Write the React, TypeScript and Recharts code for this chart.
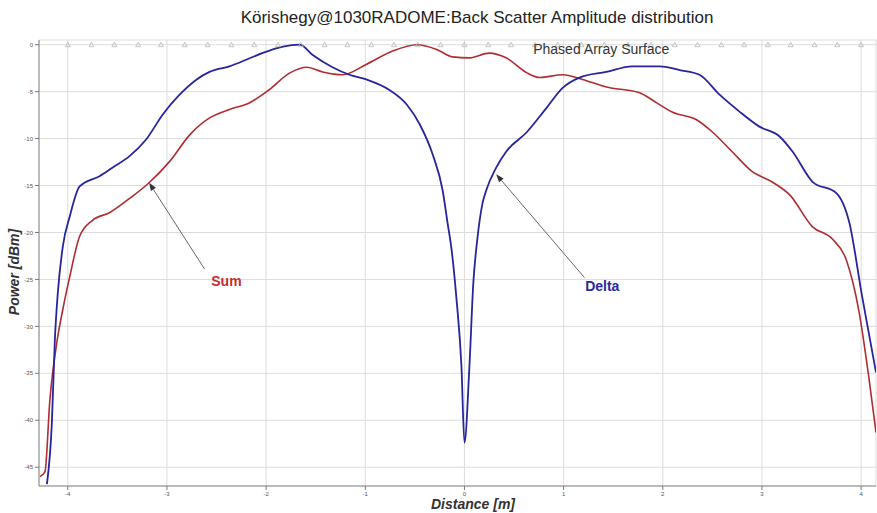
import React from 'react';
import {
  ComposedChart,
  Line,
  Scatter,
  XAxis,
  YAxis,
  CartesianGrid,
  ReferenceLine,
  ReferenceDot,
} from 'recharts';

const titleText = 'Körishegy@1030RADOME:Back Scatter Amplitude distribution';
const xLabel = 'Distance [m]';
const yLabel = 'Power [dBm]';
const surfaceLabel = 'Phased Array Surface';

const xTicks = [-4, -3, -2, -1, 0, 1, 2, 3, 4];
const yTicks = [0, -5, -10, -15, -20, -25, -30, -35, -40, -45];

const deltaDistance = [
  -4.21, -4.16, -4.13, -4.1, -4.05, -3.98, -3.88, -3.68, -3.55, -3.38, -3.21, -3.04, -2.87, -2.7,
  -2.57, -2.37, -2.2, -2.04, -1.83, -1.66, -1.53, -1.33, -1.16, -0.99, -0.76, -0.58, -0.45, -0.32,
  -0.22, -0.17, -0.13, -0.08, -0.03, 0.0, 0.05, 0.09, 0.13, 0.18, 0.22, 0.32, 0.42, 0.63, 0.83,
  0.99, 1.16, 1.43, 1.69, 1.97, 2.17, 2.37, 2.57, 2.77, 2.97, 3.18, 3.31, 3.51, 3.75, 3.88, 4.01,
  4.15,
];
const deltaPower = [
  -46.8, -40.2, -31.4, -26.4, -21.5, -18.3, -15.1, -14.0, -13.1, -11.9, -10.1, -7.4, -5.3, -3.7,
  -2.9, -2.3, -1.6, -0.9, -0.2, 0.0, -1.1, -2.4, -3.2, -3.7, -4.8, -6.4, -8.5, -11.7, -15.5, -19.0,
  -21.8, -27.1, -34.3, -42.4, -34.3, -25.3, -20.7, -17.0, -15.5, -13.1, -11.4, -9.3, -6.7, -4.6,
  -3.5, -2.9, -2.3, -2.3, -2.7, -3.2, -5.3, -7.1, -8.7, -9.8, -11.4, -14.6, -15.8, -18.9, -26.8,
  -34.9,
];

const sumDistance = [
  -4.28, -4.23, -4.18, -4.11, -4.05, -3.98, -3.88, -3.75, -3.58, -3.38, -3.18, -2.97, -2.77, -2.57,
  -2.37, -2.17, -1.97, -1.76, -1.59, -1.43, -1.23, -0.99, -0.73, -0.48, -0.28, -0.12, 0.05, 0.25,
  0.42, 0.63, 0.76, 0.99, 1.19, 1.43, 1.76, 1.94, 2.1, 2.34, 2.5, 2.7, 2.9, 3.1, 3.28, 3.51, 3.71,
  3.85, 3.98, 4.08, 4.15,
];
const sumPower = [
  -46.0, -45.5, -37.8, -31.7, -28.2, -24.7, -20.4, -18.7, -17.9, -16.4, -14.7, -12.4, -9.6, -7.8,
  -6.9, -6.2, -4.8, -3.0, -2.4, -2.9, -3.2, -2.1, -0.7, 0.0, -0.5, -1.3, -1.4, -0.9, -1.4, -3.0,
  -3.5, -3.2, -3.7, -4.5, -5.1, -6.2, -7.2, -8.0, -9.3, -11.4, -13.5, -14.6, -16.0, -19.4, -20.7,
  -22.9, -28.5, -35.6, -41.3,
];

const markerDistance = [
  -4.0, -3.76, -3.53, -3.29, -3.06, -2.82, -2.59, -2.35, -2.12, -1.88, -1.65, -1.41, -1.18, -0.94,
  -0.71, -0.47, -0.24, 0.0, 0.24, 0.47, 0.71, 0.94, 1.18, 1.41, 1.65, 1.88, 2.12, 2.35, 2.59, 2.82,
  3.06, 3.29, 3.53, 3.76, 4.0,
];

const deltaData = deltaDistance.map((x, i) => ({ x, y: deltaPower[i] }));
const sumData = sumDistance.map((x, i) => ({ x, y: sumPower[i] }));
const markerData = markerDistance.map((x) => ({ x, y: 0 }));

const Triangle = (props: any) => {
  const { cx, cy } = props;
  if (cx == null || cy == null) return null;
  return (
    <path
      d={`M${cx - 2.5},${cy + 2} L${cx},${cy - 2.5} L${cx + 2.5},${cy + 2} Z`}
      fill="none"
      stroke="#b9b9b0"
      strokeWidth={0.8}
    />
  );
};

const Arrow = (props: any) => {
  const { x1, y1, x2, y2 } = props;
  if ([x1, y1, x2, y2].some((v) => v == null || isNaN(v))) return null;
  const ang = Math.atan2(y2 - y1, x2 - x1);
  const L = 8;
  const W = 3;
  const bx = x2 - L * Math.cos(ang);
  const by = y2 - L * Math.sin(ang);
  const px = -Math.sin(ang) * W;
  const py = Math.cos(ang) * W;
  return (
    <g>
      <line x1={x1} y1={y1} x2={bx} y2={by} stroke="#555" strokeWidth={0.9} />
      <polygon points={`${x2},${y2} ${bx + px},${by + py} ${bx - px},${by - py}`} fill="#333" />
    </g>
  );
};

export default function App() {
  return (
    <div
      style={{
        position: 'absolute',
        left: 0,
        top: 0,
        width: 877,
        height: 513,
        background: '#fff',
        fontFamily: '"Liberation Sans", Arial, sans-serif',
      }}
    >
      <div
        style={{
          position: 'absolute',
          left: 477,
          top: 18,
          transform: 'translate(-50%, -50%)',
          fontSize: 17,
          color: '#222',
          whiteSpace: 'nowrap',
        }}
      >
        {titleText}
      </div>
      <div
        style={{
          position: 'absolute',
          left: 14,
          top: 272,
          transform: 'translate(-50%, -50%) rotate(-90deg)',
          fontSize: 14,
          fontWeight: 'bold',
          fontStyle: 'italic',
          color: '#333',
          whiteSpace: 'nowrap',
        }}
      >
        {yLabel}
      </div>
      <div
        style={{
          position: 'absolute',
          left: 473,
          top: 504,
          transform: 'translate(-50%, -50%)',
          fontSize: 14,
          fontWeight: 'bold',
          fontStyle: 'italic',
          color: '#333',
          whiteSpace: 'nowrap',
        }}
      >
        {xLabel}
      </div>
      <ComposedChart
        width={877}
        height={513}
        margin={{ top: 40, right: 1, bottom: 0, left: 0 }}
      >
        <CartesianGrid stroke="#dcdcdc" strokeWidth={1} />
        <XAxis
          dataKey="x"
          type="number"
          domain={[-4.29, 4.15]}
          ticks={xTicks}
          allowDataOverflow
          height={27}
          tick={{ fontSize: 6, fill: '#555' }}
          tickLine={{ stroke: '#777' }}
          tickSize={4}
          axisLine={{ stroke: '#888' }}
        />
        <YAxis
          dataKey="y"
          type="number"
          domain={[-47, 0.5]}
          ticks={yTicks}
          allowDataOverflow
          width={39}
          tick={{ fontSize: 6, fill: '#555' }}
          tickLine={{ stroke: '#777' }}
          tickSize={4}
          axisLine={{ stroke: '#888' }}
        />
        <Scatter data={markerData} dataKey="y" shape={<Triangle />} isAnimationActive={false} />
        <Line
          data={sumData}
          dataKey="y"
          type="monotone"
          stroke="#b02c30"
          strokeWidth={1.6}
          dot={false}
          isAnimationActive={false}
        />
        <Line
          data={deltaData}
          dataKey="y"
          type="monotone"
          stroke="#25259c"
          strokeWidth={1.8}
          dot={false}
          isAnimationActive={false}
        />
        <ReferenceLine
          segment={[
            { x: -2.62, y: -23.9 },
            { x: -3.18, y: -14.7 },
          ]}
          shape={<Arrow />}
        />
        <ReferenceLine
          segment={[
            { x: 1.21, y: -24.8 },
            { x: 0.32, y: -13.8 },
          ]}
          shape={<Arrow />}
        />
        <ReferenceDot
          x={-2.4}
          y={-25.2}
          r={0}
          stroke="none"
          label={{ value: 'Sum', position: 'center', fill: '#c0302c', fontSize: 14, fontWeight: 'bold' }}
        />
        <ReferenceDot
          x={1.39}
          y={-25.7}
          r={0}
          stroke="none"
          label={{ value: 'Delta', position: 'center', fill: '#2a2aa0', fontSize: 14, fontWeight: 'bold' }}
        />
        <ReferenceDot
          x={1.38}
          y={-0.5}
          r={0}
          stroke="none"
          label={{ value: surfaceLabel, position: 'center', fill: '#333', fontSize: 14 }}
        />
      </ComposedChart>
    </div>
  );
}
